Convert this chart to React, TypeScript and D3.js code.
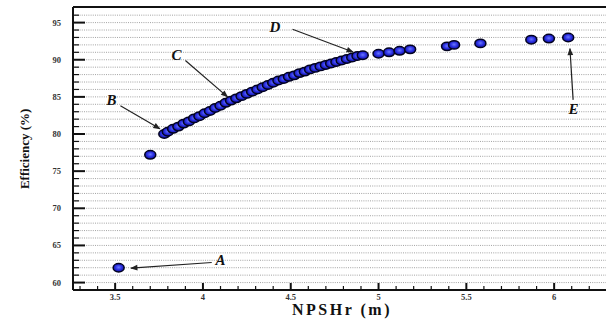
import React from "react";
import * as d3 from "d3";

// NPSHr (m) vs efficiency (%)
const npshr = [
  3.52, 3.70,
  3.78, 3.80, 3.83, 3.86, 3.89, 3.92, 3.95, 3.98, 4.01, 4.04, 4.07, 4.10, 4.13,
  4.16, 4.19, 4.22, 4.25, 4.28, 4.31, 4.34, 4.37, 4.40, 4.43, 4.46, 4.49, 4.52,
  4.55, 4.58, 4.61, 4.64, 4.67, 4.70, 4.73, 4.76, 4.79, 4.82, 4.85, 4.88, 4.91,
  5.00, 5.06, 5.12, 5.18, 5.39, 5.43, 5.58, 5.87, 5.97, 6.08,
];
const efficiency = [
  62.0, 77.2,
  80.0, 80.3, 80.7, 81.0, 81.4, 81.7, 82.1, 82.4, 82.8, 83.1, 83.5, 83.8, 84.2,
  84.5, 84.8, 85.1, 85.4, 85.7, 86.0, 86.3, 86.6, 86.9, 87.2, 87.4, 87.7, 87.9,
  88.2, 88.4, 88.7, 88.9, 89.1, 89.3, 89.5, 89.7, 89.9, 90.1, 90.3, 90.5, 90.6,
  90.8, 91.0, 91.2, 91.4, 91.8, 92.0, 92.2, 92.7, 92.85, 93.0,
];

const xTicks = [3.5, 4, 4.5, 5, 5.5, 6];
const yTicks = [60, 65, 70, 75, 80, 85, 90, 95];

// annotations: letter, label position, arrow start, arrow tip (data units)
const labels = ["A", "B", "C", "D", "E"];
const labelPos = [[4.10, 63.0], [3.48, 84.6], [3.85, 90.6], [4.41, 94.4], [6.11, 83.4]];
const arrowFrom = [[4.05, 62.7], [3.53, 83.8], [3.90, 89.9], [4.51, 94.1], [6.108, 84.6]];
const arrowTo = [[3.59, 61.95], [3.755, 80.7], [4.14, 85.0], [4.855, 91.05], [6.09, 91.5]];

const W = 606;
const H = 320;
const margin = { left: 73, top: 7, bottom: 30 };

export default function App() {
  const x = d3.scaleLinear().domain([3.26, 6.3]).range([margin.left, margin.left + 3.04 * 175.6]);
  const y = d3.scaleLinear().domain([59, 97.1]).range([H - margin.bottom, margin.top]);

  const x0 = margin.left;
  const y0 = H - margin.bottom;

  const gridVals = d3.range(60, 97, 1);
  const xMinor = d3.range(3.3, 6.31, 0.1).filter(v => Math.abs(v * 2 - Math.round(v * 2)) > 0.01);
  const yMinor = d3.range(60, 97, 1).filter(v => v % 5 !== 0);

  const points = npshr.map((v, i) => ({ n: v, e: efficiency[i] }));

  return (
    <svg width={W} height={H} style={{ position: "absolute", left: 0, top: 0, background: "#fff" }}
      fontFamily="'Liberation Serif', 'DejaVu Serif', serif">
      <defs>
        <radialGradient id="dot" cx="50%" cy="45%" r="55%">
          <stop offset="0%" stopColor="#6a78ff" />
          <stop offset="55%" stopColor="#2a2ee0" />
          <stop offset="100%" stopColor="#10129a" />
        </radialGradient>
        <marker id="arrow" viewBox="0 0 10 10" refX="9" refY="5" markerWidth="7" markerHeight="6" orient="auto-start-reverse">
          <path d="M0,1 L10,5 L0,9 z" fill="#222" />
        </marker>
      </defs>

      {/* dotted horizontal grid */}
      {gridVals.map(v => (
        <line key={"g" + v} x1={x0} x2={W} y1={y(v)} y2={y(v)}
          stroke="#999" strokeWidth={0.9} strokeDasharray="1 1.2" />
      ))}

      {/* y ticks */}
      {yMinor.map(v => (
        <line key={"ym" + v} x1={x0} x2={x0 + 6} y1={y(v)} y2={y(v)} stroke="#111" strokeWidth={1.2} />
      ))}
      {yTicks.map(v => (
        <g key={"y" + v}>
          <line x1={x0} x2={x0 + 12} y1={y(v)} y2={y(v)} stroke="#111" strokeWidth={2} />
          <text x={61} y={y(v) + 3} textAnchor="end" fontSize={8.5} fontWeight="bold" fill="#333">{v}</text>
        </g>
      ))}

      {/* x ticks */}
      {xMinor.map(v => (
        <line key={"xm" + v.toFixed(1)} x1={x(v)} x2={x(v)} y1={y0} y2={y0 - 4} stroke="#111" strokeWidth={1.2} />
      ))}
      {xTicks.map(v => (
        <g key={"x" + v}>
          <line x1={x(v)} x2={x(v)} y1={y0} y2={y0 - 7} stroke="#111" strokeWidth={2} />
          <text x={x(v)} y={y0 + 10} textAnchor="middle" fontSize={8.5} fontWeight="bold" fill="#333">{v}</text>
        </g>
      ))}

      {/* frame */}
      <line x1={x0} x2={W} y1={margin.top} y2={margin.top} stroke="#111" strokeWidth={2} />
      <line x1={x0} x2={W} y1={y0} y2={y0} stroke="#111" strokeWidth={2} />
      <line x1={x0} x2={x0} y1={margin.top} y2={y0} stroke="#111" strokeWidth={2} />

      {/* data */}
      {points.map((p, i) => (
        <ellipse key={"p" + i} cx={x(p.n)} cy={y(p.e)} rx={5.5} ry={4.2}
          fill="url(#dot)" stroke="#020220" strokeWidth={1.5} />
      ))}

      {/* annotations */}
      {labels.map((l, i) => (
        <g key={"a" + l}>
          <line x1={x(arrowFrom[i][0])} y1={y(arrowFrom[i][1])} x2={x(arrowTo[i][0])} y2={y(arrowTo[i][1])}
            stroke="#222" strokeWidth={1.2} markerEnd="url(#arrow)" />
          <text x={x(labelPos[i][0])} y={y(labelPos[i][1]) + 5} textAnchor="middle" fontSize={15}
            fontWeight="bold" fontStyle="italic" fill="#111">{l}</text>
        </g>
      ))}

      {/* axis titles */}
      <text x={342} y={315} textAnchor="middle" fontSize={16} fontWeight="bold" letterSpacing={2.5} fill="#111">NPSHr (m)</text>
      <text transform={`translate(29, ${y(78)}) rotate(-90)`} textAnchor="middle" fontSize={13}
        fontWeight="bold" fill="#111">Efficiency (%)</text>
    </svg>
  );
}
